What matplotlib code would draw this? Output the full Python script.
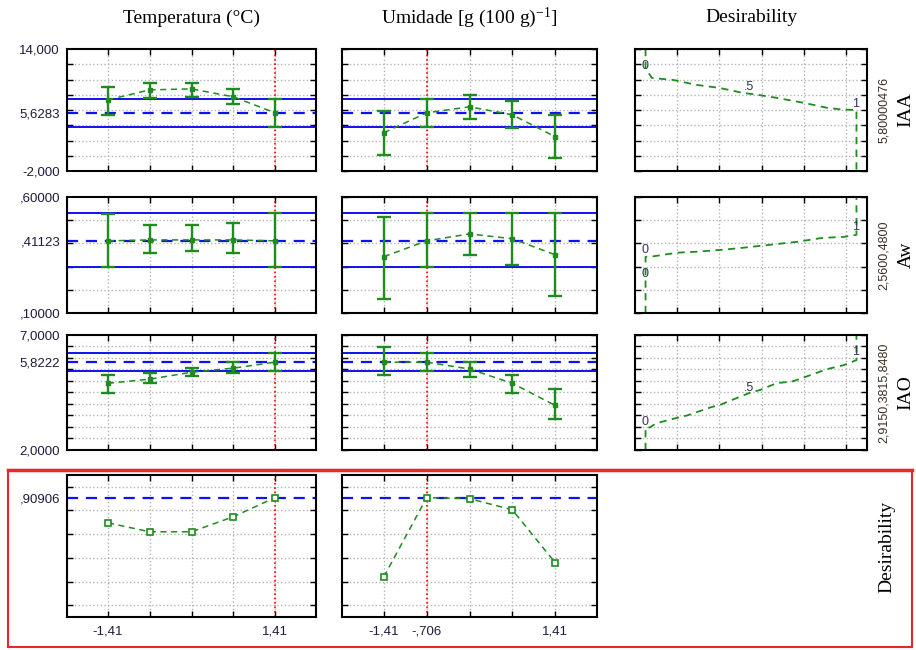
import numpy as np
import matplotlib
matplotlib.use('Agg')
import matplotlib.pyplot as plt
from matplotlib.patches import Rectangle
from matplotlib.lines import Line2D

plt.rcParams['font.family'] = ['Liberation Sans', 'DejaVu Sans']
plt.rcParams['mathtext.default'] = 'regular'

W, H = 916, 650

# factor levels (coded)
levels = [-1.41, -0.705, 0.0, 0.705, 1.41]
temp_ticklabels = ['-1,41', '', '', '', '1,41']
umid_ticklabels = ['-1,41', '-,706', '', '', '1,41']
temp_now = 1.41
umid_now = -0.705

# IAA
iaa_temp_mean = [7.33, 8.64, 8.77, 7.73, 5.63]
iaa_temp_lo = [5.37, 7.60, 7.73, 6.80, 3.80]
iaa_temp_hi = [9.03, 9.56, 9.56, 8.77, 7.46]
iaa_umid_mean = [3.02, 5.63, 6.42, 5.37, 2.50]
iaa_umid_lo = [0.14, 3.80, 4.85, 3.67, -0.25]
iaa_umid_hi = [5.90, 7.46, 7.99, 7.20, 5.37]
iaa_now, iaa_ci = 5.6283, (3.80, 7.46)

# Aw
aw_temp_mean = [0.411, 0.415, 0.415, 0.415, 0.411]
aw_temp_lo = [0.300, 0.360, 0.368, 0.360, 0.300]
aw_temp_hi = [0.527, 0.480, 0.480, 0.488, 0.531]
aw_umid_mean = [0.343, 0.411, 0.441, 0.420, 0.351]
aw_umid_lo = [0.162, 0.300, 0.351, 0.308, 0.175]
aw_umid_hi = [0.514, 0.531, 0.531, 0.531, 0.531]
aw_now, aw_ci = 0.41123, (0.300, 0.531)

# IAO
iao_temp_mean = [4.90, 5.08, 5.38, 5.56, 5.82]
iao_temp_lo = [4.47, 4.90, 5.21, 5.34, 5.43]
iao_temp_hi = [5.25, 5.34, 5.56, 5.82, 6.21]
iao_umid_mean = [5.82, 5.82, 5.52, 4.90, 3.94]
iao_umid_lo = [5.25, 5.43, 5.17, 4.47, 3.33]
iao_umid_hi = [6.48, 6.21, 5.82, 5.25, 4.64]
iao_now, iao_ci = 5.8222, (5.43, 6.21)

# overall desirability
des_temp = [0.696, 0.620, 0.620, 0.747, 0.909]
des_umid = [0.240, 0.909, 0.900, 0.806, 0.360]
des_now = 0.90906

# desirability functions (desirability, response)
iaa_fd = [0, 0.03, 0.13, 0.24, 0.35, 0.46, 0.53, 0.62, 0.75, 0.86, 0.94, 1.0]
iaa_fv = [11.5, 10.2, 9.95, 9.3, 8.9, 8.25, 8.0, 7.6, 6.94, 6.29, 6.03, 6.03]
aw_fd = [0, 0.02, 0.15, 0.24, 0.37, 0.46, 0.59, 0.72, 0.84, 0.94, 1.0]
aw_fv = [0.342, 0.342, 0.360, 0.364, 0.373, 0.381, 0.394, 0.407, 0.424, 0.428, 0.437]
iao_fd = [0, 0.02, 0.05, 0.12, 0.20, 0.31, 0.35, 0.43, 0.50, 0.54, 0.62, 0.70, 0.78, 0.86, 0.94, 1.0]
iao_fv = [2.98, 2.98, 3.16, 3.33, 3.51, 3.86, 3.95, 4.25, 4.51, 4.60, 4.90, 4.99, 5.25, 5.515, 5.69, 5.908]
iaa_flabels = [('0', 0, 11.8), ('.5', 0.5, 9.0), ('1', 1, 6.8)]
aw_flabels = [('0', 0, 0.373), ('0', 0, 0.27), ('1', 1, 0.471)]
iao_flabels = [('0', 0, 3.2), ('.5', 0.5, 4.69), ('1', 1, 6.26)]
des_ticks = [0.15, 0.35, 0.55, 0.75, 0.95]

green = '#1e8c1e'
blue = '#1010f0'
gridc = '#b4b4b4'
tickc = '#1c1c3c'
serif = ['Liberation Serif', 'DejaVu Serif']

fig = plt.figure(figsize=(W / 100, H / 100), dpi=100)

cols = [(67, 316), (342, 597), (635, 867)]
rows = [(49, 171), (197, 313), (335, 450), (475, 617)]


def px_axes(c, r):
    x0, x1 = cols[c]
    y0, y1 = rows[r]
    return fig.add_axes([x0 / W, 1 - y1 / H, (x1 - x0) / W, (y1 - y0) / H])


def style(ax, ylim, ystep, ylabels, xticks, xlabels=None):
    ax.set_ylim(*ylim)
    ax.set_yticks(np.arange(ylim[0], ylim[1] + ystep * 0.01, ystep), minor=True)
    if ylabels:
        ax.set_yticks([v for v, _ in ylabels])
        ax.set_yticklabels([t for _, t in ylabels])
    else:
        ax.set_yticks([])
    ax.set_xticks(xticks)
    if xlabels is None:
        ax.set_xticklabels([])
    else:
        ax.set_xticklabels(xlabels)
    ax.grid(True, which='major', axis='x', color=gridc, ls=':', lw=1.0)
    ax.grid(True, which='minor', axis='y', color=gridc, ls=':', lw=1.0)
    ax.tick_params(axis='y', which='major', length=0, pad=5, labelsize=9.5, labelcolor=tickc)
    ax.tick_params(axis='y', which='minor', direction='in', length=4, width=1.0,
                   left=True, right=True)
    ax.tick_params(axis='x', which='major', direction='in', length=4, width=1.0,
                   top=True, bottom=True, pad=6, labelsize=9.5, labelcolor=tickc)
    for s in ax.spines.values():
        s.set_linewidth(1.5)
        s.set_color('black')


def profile(ax, mean, lo, hi, now_val, ci, now_x):
    ax.axhline(ci[0], color=blue, lw=1.4, zorder=2)
    ax.axhline(ci[1], color=blue, lw=1.4, zorder=2)
    ax.axhline(now_val, color=blue, lw=1.6, ls=(0, (5, 3.5)), zorder=2)
    ax.axvline(now_x, color='red', lw=1.2, ls=':', zorder=2)
    m = np.array(mean)
    ax.errorbar(levels, m, yerr=[m - np.array(lo), np.array(hi) - m], fmt='none',
                ecolor=green, elinewidth=1.7, capsize=5, capthick=1.7, zorder=3)
    ax.plot(levels, m, color=green, lw=1.1, ls=(0, (4, 3)), marker='s', ms=2.5, zorder=4)
    ax.set_xlim(-2.1, 2.1)


row_specs = [
    dict(ylim=(-2, 14), step=2, labels=[(14, '14,000'), (iaa_now, '5,6283'), (-2, '-2,000')],
         data=[(iaa_temp_mean, iaa_temp_lo, iaa_temp_hi), (iaa_umid_mean, iaa_umid_lo, iaa_umid_hi)],
         now=iaa_now, ci=iaa_ci, fd=iaa_fd, fv=iaa_fv, fl=iaa_flabels, top_at_zero=True,
         name='IAA', nums='5,80000476'),
    dict(ylim=(0.1, 0.6), step=0.1, labels=[(0.6, ',60000'), (aw_now, ',41123'), (0.1, ',10000')],
         data=[(aw_temp_mean, aw_temp_lo, aw_temp_hi), (aw_umid_mean, aw_umid_lo, aw_umid_hi)],
         now=aw_now, ci=aw_ci, fd=aw_fd, fv=aw_fv, fl=aw_flabels, top_at_zero=False,
         name='Aw', nums='2,5600,4800'),
    dict(ylim=(2, 7), step=0.5, labels=[(7, '7,0000'), (iao_now, '5,8222'), (2, '2,0000')],
         data=[(iao_temp_mean, iao_temp_lo, iao_temp_hi), (iao_umid_mean, iao_umid_lo, iao_umid_hi)],
         now=iao_now, ci=iao_ci, fd=iao_fd, fv=iao_fv, fl=iao_flabels, top_at_zero=False,
         name='IAO', nums='2,9150,3815,8480'),
]
now_xs = [temp_now, umid_now]

for r, spec in enumerate(row_specs):
    for c in range(2):
        ax = px_axes(c, r)
        mean, lo, hi = spec['data'][c]
        profile(ax, mean, lo, hi, spec['now'], spec['ci'], now_xs[c])
        style(ax, spec['ylim'], spec['step'], spec['labels'] if c == 0 else None, levels)
    # desirability function panel
    ax = px_axes(2, r)
    y0, y1 = spec['ylim']
    if spec['top_at_zero']:
        dd = [0] + spec['fd'] + [1]
        vv = [y1] + spec['fv'] + [y0]
    else:
        dd = [0] + spec['fd'] + [1]
        vv = [y0] + spec['fv'] + [y1]
    ax.plot(dd, vv, color=green, lw=1.3, ls=(0, (4, 3)), clip_on=True)
    for t, d, v in spec['fl']:
        ax.annotate(t, (d, v), xytext=(2, 0), textcoords='offset points',
                    ha='right', va='center', fontsize=9, color='#333355')
    ax.set_xlim(-0.05, 1.05)
    style(ax, spec['ylim'], spec['step'], None, des_ticks)
    yc = 1 - (rows[r][0] + rows[r][1]) / 2 / H
    fig.text(884 / W, yc, spec['nums'], rotation=90, ha='center', va='center',
             fontsize=9, color='#3a3020')
    fig.text(906 / W, yc, spec['name'], rotation=90, ha='center', va='center',
             fontsize=14, family=serif)

# overall desirability row
for c, (des, labels, now_x) in enumerate([(des_temp, temp_ticklabels, temp_now),
                                          (des_umid, umid_ticklabels, umid_now)]):
    ax = px_axes(c, 3)
    ax.axhline(des_now, color=blue, lw=1.6, ls=(0, (5, 3.5)), zorder=2)
    ax.axvline(now_x, color='red', lw=1.2, ls=':', zorder=2)
    ax.plot(levels, des, color=green, lw=1.1, ls=(0, (4, 3)), marker='s', ms=4,
            mfc='white', mec=green, mew=1.2, zorder=4)
    ax.set_xlim(-2.1, 2.1)
    style(ax, (-0.1, 1.1), 0.2, [(des_now, ',90906')] if c == 0 else None, levels, labels)
    ax.set_yticks(np.arange(0, 1.01, 0.2), minor=True)

fig.text(887 / W, 1 - 547 / H, 'Desirability', rotation=90, ha='center', va='center',
         fontsize=14, family=serif)

# column titles
titles = ['Temperatura (°C)', 'Umidade [g (100 g)$^{-1}$]', 'Desirability']
for (x0, x1), t in zip(cols, titles):
    fig.text((x0 + x1) / 2 / W, 1 - 18 / H, t, ha='center', va='center',
             fontsize=14, family=serif)

# red frame around desirability row
fig.add_artist(Rectangle((8 / W, 1 - 647 / H), (912 - 8) / W, (647 - 470) / H,
                         transform=fig.transFigure, fill=False, edgecolor='#e8262b', lw=1.5))
fig.add_artist(Line2D([8 / W, 912 / W], [1 - 470 / H, 1 - 470 / H],
                      transform=fig.transFigure, color='#e8262b', lw=2.5))

fig.savefig('out.png', dpi=100)
